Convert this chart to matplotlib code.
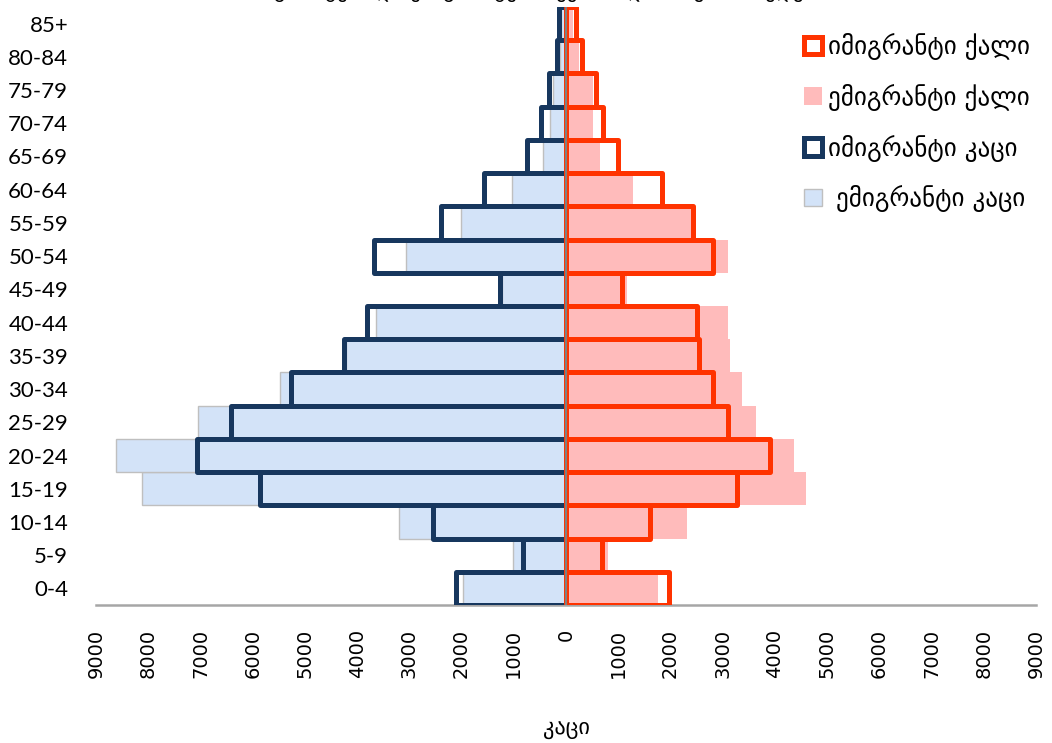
import numpy as np
import matplotlib
matplotlib.use('Agg')
import matplotlib.pyplot as plt
from matplotlib.patches import Patch

# age groups, bottom to top
age_groups = ['0-4', '5-9', '10-14', '15-19', '20-24', '25-29', '30-34', '35-39',
              '40-44', '45-49', '50-54', '55-59', '60-64', '65-69', '70-74',
              '75-79', '80-84', '85+']

# persons
immigrant_male = [2110, 820, 2550, 5860, 7070, 6420, 5270, 4250,
                  3810, 1260, 3670, 2390, 1570, 750, 480, 330, 170, 130]
emigrant_male = [1970, 1020, 3200, 8120, 8620, 7050, 5480, 4210,
                 3640, 1230, 3070, 2010, 1030, 440, 310, 250, 110, 100]
immigrant_female = [1970, 690, 1610, 3280, 3910, 3100, 2820, 2550,
                    2510, 1070, 2820, 2430, 1840, 1000, 710, 570, 300, 190]
emigrant_female = [1760, 800, 2320, 4600, 4370, 3640, 3370, 3140,
                   3100, 1170, 3100, 2410, 1280, 650, 510, 520, 250, 130]

x_ticks = np.arange(-9000, 9001, 1000)

label_im_f = 'იმიგრანტი ქალი'
label_em_f = 'ემიგრანტი ქალი'
label_im_m = 'იმიგრანტი კაცი'
label_em_m = ' ემიგრანტი კაცი'
x_title = 'კაცი'
chart_title = 'იმიგრანტები და ემიგრანტები სქესისა და ასაკის მიხედვით'

NAVY = '#17375E'
ORANGE = '#FF3300'
LIGHT_BLUE = '#D3E3F8'
PINK = '#FFBBBB'

plt.rcParams['font.family'] = ['DejaVu Sans']

fig = plt.figure(figsize=(10.52, 7.43), dpi=100)
ax = fig.add_axes([96 / 1052, 1 - 605 / 743, 940 / 1052, 598 / 743])

y = np.arange(len(age_groups))

ax.barh(y, -np.array(emigrant_male), height=1.0, color=LIGHT_BLUE,
        edgecolor='#BFBFBF', linewidth=1.0, zorder=1)
ax.barh(y, emigrant_female, height=1.0, color=PINK, edgecolor='none', zorder=1)
ax.barh(y, -np.array(immigrant_male), height=1.0, fill=False,
        edgecolor=NAVY, linewidth=3.6, joinstyle='round', zorder=3)
ax.barh(y, immigrant_female, height=1.0, fill=False,
        edgecolor=ORANGE, linewidth=3.6, joinstyle='round', zorder=3)

ax.axvline(0, color='#808080', linewidth=1.5, zorder=4)

ax.set_xlim(-9000, 9000)
ax.set_ylim(-0.5, len(age_groups) - 0.5)

ax.set_xticks(x_ticks)
ax.set_xticklabels([str(abs(v)) for v in x_ticks], rotation=90, fontsize=14)
ax.set_yticks(y)
ax.set_yticklabels(age_groups, fontsize=16, family='Lato')
ax.tick_params(axis='x', length=0, pad=17)
ax.tick_params(axis='y', length=0, pad=20)

for side in ['top', 'right', 'left']:
    ax.spines[side].set_visible(False)
ax.spines['bottom'].set_color('#A6A6A6')
ax.spines['bottom'].set_linewidth(1.8)

ax.set_xlabel(x_title, fontsize=16, labelpad=30)

handles = [
    Patch(facecolor='white', edgecolor=ORANGE, linewidth=3.6),
    Patch(facecolor=PINK, edgecolor='none'),
    Patch(facecolor='white', edgecolor=NAVY, linewidth=3.6),
    Patch(facecolor=LIGHT_BLUE, edgecolor='#BFBFBF', linewidth=1.0),
]
fig.legend(handles, [label_im_f, label_em_f, label_im_m, label_em_m],
           loc='upper left', bbox_to_anchor=(804 / 1052, 1 - 33 / 743),
           frameon=False, fontsize=18, handlelength=0.7, handleheight=0.7,
           labelspacing=0.95, handletextpad=0.25, borderpad=0, borderaxespad=0)

# title sits mostly above the canvas, as in the source image
fig.text(0.51, 1 + 3 / 743, chart_title, ha='center', va='baseline',
         fontsize=15)

fig.savefig('out.png', dpi=100)
